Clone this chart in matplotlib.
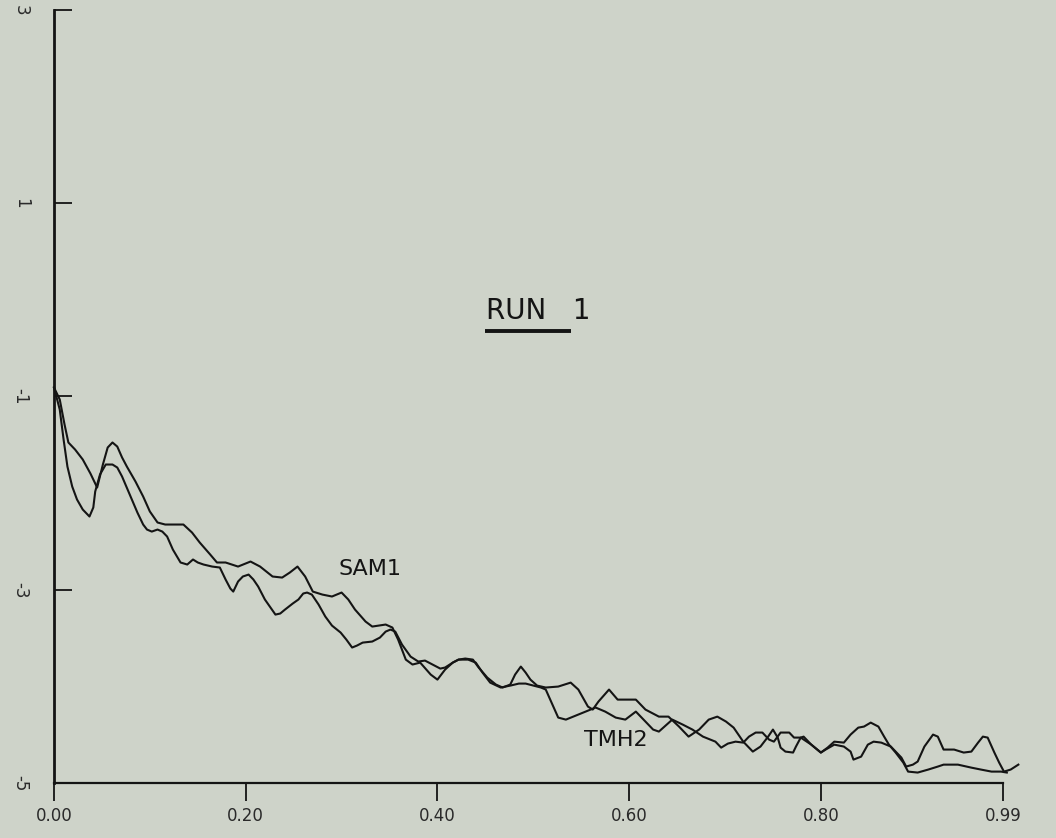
import matplotlib
matplotlib.use("Agg")
import matplotlib.pyplot as plt

# values
sam1_x = [0.000, 0.006, 0.011, 0.015, 0.022, 0.030, 0.038, 0.045, 0.051, 0.056,
          0.061, 0.066, 0.071, 0.076, 0.085, 0.093, 0.100, 0.108, 0.116, 0.126,
          0.135, 0.144, 0.152, 0.163, 0.170, 0.179, 0.192, 0.205, 0.215, 0.228,
          0.238, 0.246, 0.254, 0.262, 0.270, 0.280, 0.290, 0.300, 0.307, 0.314,
          0.325, 0.332, 0.346, 0.353, 0.359, 0.367, 0.374, 0.382, 0.393, 0.400,
          0.408, 0.416, 0.422, 0.429, 0.437, 0.443, 0.452, 0.461, 0.468, 0.476,
          0.481, 0.487, 0.492, 0.497, 0.504, 0.513, 0.526, 0.539, 0.547, 0.557,
          0.562, 0.568, 0.579, 0.588, 0.599, 0.607, 0.617, 0.631, 0.641, 0.652,
          0.662, 0.673, 0.683, 0.692, 0.701, 0.709, 0.719, 0.729, 0.737, 0.745,
          0.750, 0.755, 0.758, 0.763, 0.771, 0.774, 0.779, 0.782, 0.790, 0.800,
          0.807, 0.814, 0.824, 0.831, 0.839, 0.845, 0.852, 0.860, 0.866, 0.871,
          0.878, 0.886, 0.891, 0.901, 0.912, 0.922, 0.928, 0.943, 0.957, 0.967,
          0.978, 0.988, 0.994]
sam1_y = [-0.907, -1.031, -1.290, -1.476, -1.549, -1.652, -1.797, -1.942, -1.704, -1.528,
          -1.476, -1.518, -1.631, -1.725, -1.880, -2.035, -2.190, -2.304, -2.325, -2.325,
          -2.325, -2.408, -2.511, -2.636, -2.718, -2.718, -2.760, -2.708, -2.760, -2.863,
          -2.874, -2.822, -2.760, -2.863, -3.019, -3.050, -3.070, -3.029, -3.101, -3.205,
          -3.329, -3.381, -3.360, -3.391, -3.516, -3.723, -3.774, -3.754, -3.878, -3.930,
          -3.826, -3.754, -3.723, -3.712, -3.723, -3.805, -3.909, -3.981, -4.012, -3.981,
          -3.878, -3.795, -3.857, -3.930, -3.992, -4.012, -4.002, -3.961, -4.033, -4.209,
          -4.240, -4.157, -4.033, -4.137, -4.137, -4.137, -4.240, -4.313, -4.313, -4.416,
          -4.520, -4.447, -4.344, -4.313, -4.364, -4.427, -4.572, -4.675, -4.623, -4.520,
          -4.447, -4.530, -4.634, -4.675, -4.685, -4.623, -4.530, -4.520, -4.603, -4.685,
          -4.634, -4.572, -4.582, -4.499, -4.427, -4.416, -4.375, -4.416, -4.520, -4.603,
          -4.685, -4.789, -4.882, -4.892, -4.861, -4.830, -4.810, -4.810, -4.841, -4.861,
          -4.882, -4.882, -4.892]

tmh2_x = [0.000, 0.006, 0.010, 0.014, 0.019, 0.024, 0.030, 0.037, 0.041, 0.043,
          0.048, 0.054, 0.061, 0.066, 0.071, 0.079, 0.087, 0.093, 0.097, 0.102,
          0.108, 0.113, 0.118, 0.124, 0.132, 0.139, 0.145, 0.150, 0.156, 0.165,
          0.173, 0.179, 0.184, 0.187, 0.192, 0.197, 0.203, 0.208, 0.213, 0.220,
          0.231, 0.236, 0.241, 0.249, 0.255, 0.260, 0.264, 0.269, 0.276, 0.283,
          0.290, 0.299, 0.305, 0.311, 0.316, 0.322, 0.332, 0.340, 0.346, 0.351,
          0.356, 0.363, 0.372, 0.380, 0.387, 0.395, 0.403, 0.408, 0.416, 0.422,
          0.432, 0.440, 0.447, 0.455, 0.466, 0.476, 0.485, 0.492, 0.500, 0.508,
          0.513, 0.520, 0.526, 0.534, 0.547, 0.555, 0.565, 0.575, 0.586, 0.596,
          0.607, 0.617, 0.625, 0.631, 0.645, 0.656, 0.666, 0.677, 0.690, 0.696,
          0.703, 0.711, 0.719, 0.725, 0.732, 0.739, 0.746, 0.751, 0.758, 0.767,
          0.772, 0.779, 0.790, 0.800, 0.805, 0.814, 0.824, 0.831, 0.834, 0.842,
          0.849, 0.855, 0.863, 0.873, 0.878, 0.884, 0.889, 0.896, 0.901, 0.908,
          0.917, 0.922, 0.928, 0.939, 0.949, 0.957, 0.964, 0.969, 0.974, 0.981,
          0.986, 0.991, 0.998, 1.006]
tmh2_y = [-0.907, -1.135, -1.445, -1.725, -1.932, -2.066, -2.170, -2.242, -2.149, -1.983,
          -1.807, -1.704, -1.704, -1.735, -1.828, -2.015, -2.201, -2.325, -2.377, -2.398,
          -2.377, -2.398, -2.449, -2.584, -2.718, -2.739, -2.687, -2.718, -2.739, -2.760,
          -2.770, -2.894, -2.988, -3.019, -2.915, -2.863, -2.843, -2.894, -2.967, -3.101,
          -3.257, -3.246, -3.205, -3.143, -3.101, -3.039, -3.029, -3.050, -3.153, -3.277,
          -3.371, -3.443, -3.516, -3.598, -3.578, -3.547, -3.536, -3.495, -3.433, -3.412,
          -3.433, -3.567, -3.692, -3.743, -3.733, -3.774, -3.816, -3.805, -3.754, -3.723,
          -3.723, -3.754, -3.857, -3.961, -4.012, -3.992, -3.971, -3.971, -3.992, -4.012,
          -4.033, -4.188, -4.323, -4.344, -4.292, -4.261, -4.219, -4.261, -4.323, -4.344,
          -4.261, -4.364, -4.447, -4.468, -4.344, -4.396, -4.447, -4.520, -4.572, -4.634,
          -4.592, -4.572, -4.582, -4.520, -4.478, -4.478, -4.551, -4.572, -4.478, -4.478,
          -4.530, -4.530, -4.603, -4.685, -4.654, -4.603, -4.623, -4.675, -4.758, -4.727,
          -4.603, -4.572, -4.582, -4.623, -4.675, -4.737, -4.830, -4.810, -4.778, -4.623,
          -4.499, -4.520, -4.654, -4.654, -4.685, -4.675, -4.582, -4.520, -4.530, -4.685,
          -4.789, -4.882, -4.861, -4.810]

xticks = [0.0, 0.2, 0.4, 0.6, 0.8, 0.99]
xticklabels = ["0.00", "0.20", "0.40", "0.60", "0.80", "0.99"]
yticks = [-5, -3, -1, 1, 3]
yticklabels = ["-5", "-3", "-1", "1", "3"]

bg = "#ced3c9"
ink = "#141414"

fig = plt.figure(figsize=(10.56, 8.38), dpi=100, facecolor=bg)
ax = fig.add_axes([54 / 1056, 55 / 838, 949 / 1056, 773 / 838])
ax.set_facecolor(bg)

ax.plot(sam1_x, sam1_y, color=ink, lw=1.5, clip_on=False)
ax.plot(tmh2_x, tmh2_y, color=ink, lw=1.5, clip_on=False)

ax.set_xlim(0, 0.99)
ax.set_ylim(-5, 3)

for s in ["top", "right"]:
    ax.spines[s].set_visible(False)
ax.spines["left"].set_linewidth(2.0)
ax.spines["bottom"].set_linewidth(1.6)
ax.spines["left"].set_color(ink)
ax.spines["bottom"].set_color(ink)

ax.set_xticks(xticks)
ax.set_xticklabels(xticklabels)
ax.set_yticks(yticks)
ax.set_yticklabels(yticklabels, rotation=-90, va="center", ha="center")

ax.tick_params(axis="x", direction="out", length=13, width=1.3, color=ink,
               labelsize=12, labelcolor="#2a2a2a", pad=4)
ax.tick_params(axis="y", direction="in", length=13, width=1.3, color=ink,
               labelsize=12, labelcolor="#2a2a2a", pad=24)

# curve labels and title written on the plot
ax.text(0.330, -2.79, "SAM1", fontsize=16, color=ink, ha="center", va="center")
ax.text(0.586, -4.55, "TMH2", fontsize=16, color=ink, ha="center", va="center")
ax.text(0.505, -0.11, "RUN   1", fontsize=20, color=ink, ha="center", va="center")
ax.plot([0.450, 0.539], [-0.32, -0.32], color=ink, lw=2.8, solid_capstyle="butt")

fig.savefig("out.png", dpi=100, facecolor=bg)
